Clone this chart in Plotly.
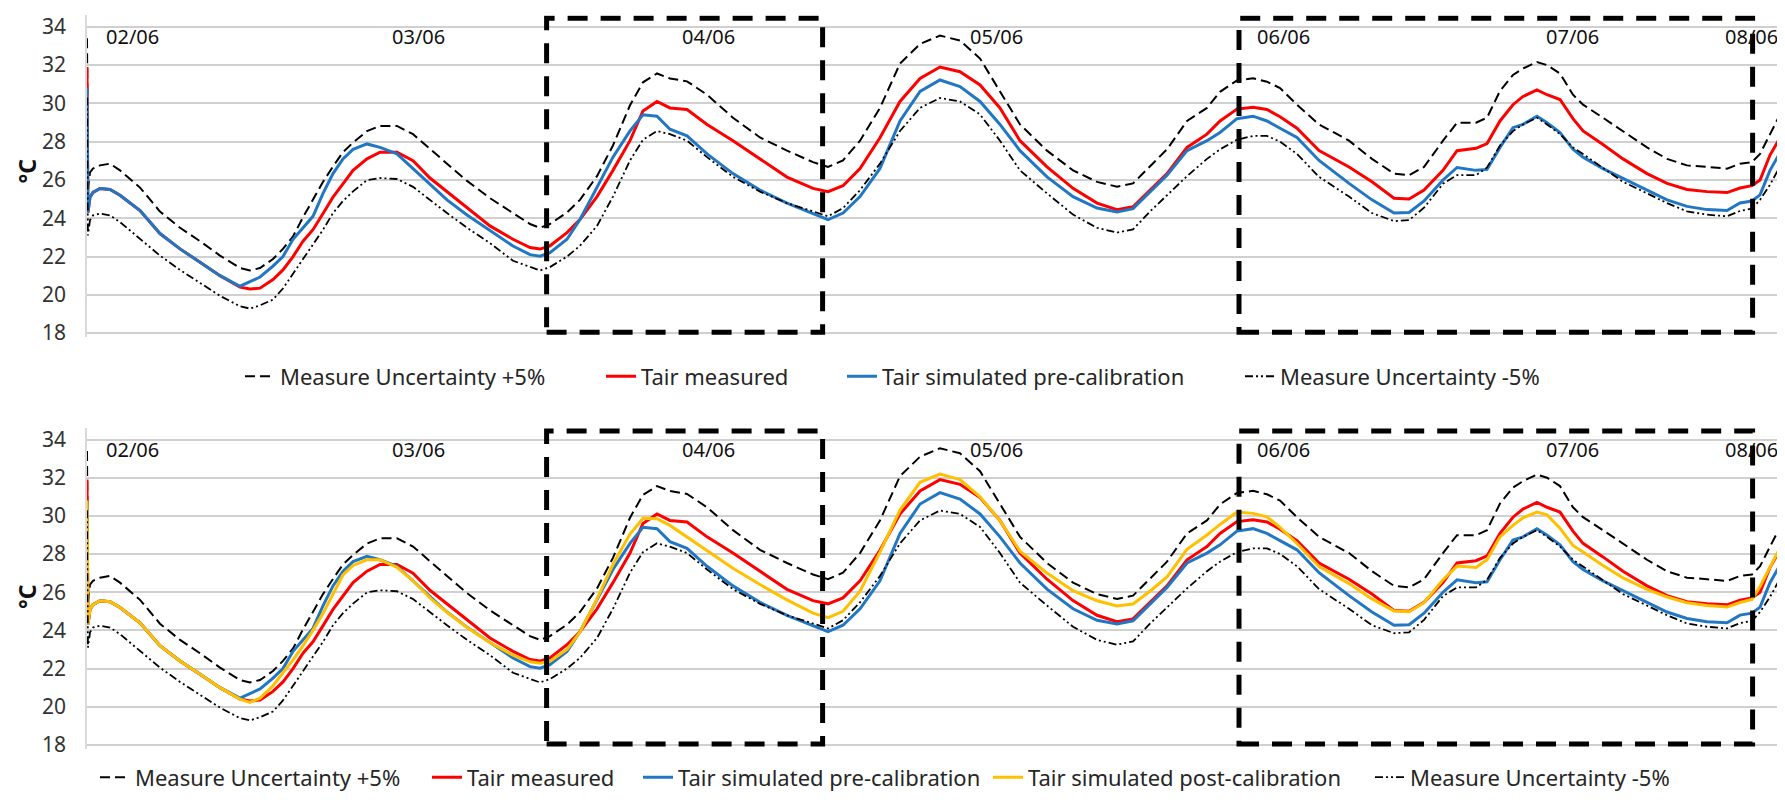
import plotly.graph_objects as go

# time axis: hours from the start of the record
hours = [0, 0.08, 0.25, 0.5, 1.08, 1.92, 2.75, 4.42, 6.08, 7.75,
         9.42, 11.08, 12.75, 13.58, 14.42, 15.5, 16.33, 17.17, 18.0, 18.83,
         19.67, 20.5, 21.33, 22.17, 23.33, 24.42, 25.83, 27.17, 28.58, 30.0,
         31.67, 33.58, 35.5, 36.92, 37.75, 38.58, 40.0, 41.08, 42.5, 43.83,
         45.25, 46.33, 47.5, 48.58, 50.0, 51.67, 53.83, 56.08, 58.33, 60.5,
         61.75, 63.0, 64.42, 66.08, 67.75, 69.42, 71.08, 72.75, 74.42, 76.08,
         77.75, 80.0, 82.17, 84.17, 85.83, 87.17, 88.58, 90.0, 91.67, 93.33,
         94.42, 95.83, 97.17, 98.33, 99.42, 100.83, 102.67, 105.17, 107.08, 108.92,
         110.17, 111.42, 113.0, 114.17, 115.75, 116.67, 117.75, 118.83, 119.67, 120.83,
         121.67, 122.75, 123.83, 124.67, 126.33, 128.0, 130.0, 131.67, 133.33, 135.0,
         136.67, 137.75, 138.75, 139.42, 140.25, 141.5]

tair_measured = [31.9, 24.3, 25.1, 25.35, 25.55, 25.5, 25.2, 24.4, 23.2, 22.4,
                 21.7, 21.0, 20.4, 20.3, 20.35, 20.8, 21.3, 22.0, 22.8, 23.4,
                 24.25, 25.1, 25.8, 26.5, 27.1, 27.45, 27.45, 27.0, 26.1, 25.4,
                 24.53, 23.6, 22.9, 22.47, 22.39, 22.56, 23.25, 23.93, 25.13, 26.5,
                 28.05, 29.6, 30.1, 29.76, 29.68, 28.9, 28.05, 27.1, 26.15, 25.56,
                 25.39, 25.7, 26.6, 28.2, 30.1, 31.3, 31.9, 31.65, 30.96, 29.76,
                 28.05, 26.68, 25.56, 24.79, 24.45, 24.6, 25.45, 26.33, 27.7, 28.39,
                 29.08, 29.7, 29.8, 29.68, 29.3, 28.7, 27.53, 26.68, 25.9, 25.04,
                 25.0, 25.47, 26.5, 27.53, 27.65, 27.9, 29.08, 29.93, 30.36, 30.7,
                 30.45, 30.2, 29.2, 28.56, 27.85, 27.1, 26.33, 25.82, 25.5, 25.39,
                 25.34, 25.58, 25.7, 26.0, 27.3, 28.65]

tair_pre = [30.8, 24.3, 25.1, 25.35, 25.55, 25.5, 25.2, 24.4, 23.2, 22.4,
            21.7, 21.0, 20.45, 20.7, 20.93, 21.5, 22.0, 22.9, 23.5, 24.1,
            25.3, 26.33, 27.1, 27.6, 27.88, 27.7, 27.36, 26.6, 25.75, 24.96,
            24.17, 23.35, 22.55, 22.1, 22.02, 22.2, 22.9, 23.93, 25.64, 27.19,
            28.56, 29.4, 29.33, 28.65, 28.3, 27.36, 26.33, 25.47, 24.79, 24.27,
            23.93, 24.27, 25.13, 26.6, 29.08, 30.62, 31.22, 30.88, 30.1, 28.9,
            27.53, 26.16, 25.13, 24.53, 24.33, 24.5, 25.35, 26.25, 27.53, 28.05,
            28.48, 29.2, 29.33, 29.08, 28.7, 28.22, 27.02, 25.82, 24.96, 24.27,
            24.3, 24.9, 26.0, 26.65, 26.5, 26.55, 27.7, 28.73, 28.9, 29.33,
            28.99, 28.48, 27.6, 27.19, 26.59, 26.08, 25.48, 24.96, 24.62, 24.45,
            24.4, 24.8, 24.9, 25.22, 26.5, 27.88]

tair_post = [30.8, 24.3, 25.1, 25.35, 25.55, 25.5, 25.2, 24.4, 23.2, 22.4,
             21.7, 21.0, 20.4, 20.23, 20.45, 21.1, 21.78, 22.45, 23.2, 24.0,
             24.9, 25.9, 26.9, 27.4, 27.7, 27.7, 27.3, 26.6, 25.7, 24.95,
             24.15, 23.35, 22.7, 22.35, 22.28, 22.38, 23.0, 23.9, 25.65, 27.45,
             29.05, 29.87, 29.85, 29.5, 28.9, 28.15, 27.25, 26.4, 25.6, 24.9,
             24.67, 25.0, 26.05, 28.1, 30.3, 31.76, 32.19, 31.9, 31.0, 29.75,
             28.15, 27.0, 26.08, 25.55, 25.28, 25.38, 26.05, 26.8, 28.25, 29.0,
             29.55, 30.2, 30.13, 29.95, 29.4, 28.55, 27.35, 26.45, 25.65, 25.02,
             24.98, 25.45, 26.65, 27.37, 27.29, 27.7, 28.9, 29.5, 29.9, 30.2,
             30.05, 29.35, 28.45, 28.1, 27.4, 26.75, 26.15, 25.75, 25.45, 25.3,
             25.22, 25.46, 25.62, 26.3, 27.3, 28.84]

unc_plus = [33.4, 25.5, 26.4, 26.6, 26.76, 26.85, 26.5, 25.6, 24.35, 23.5,
            22.8, 22.05, 21.4, 21.27, 21.4, 21.87, 22.4, 23.05, 24.05, 24.95,
            25.9, 26.7, 27.45, 27.95, 28.55, 28.82, 28.82, 28.39, 27.6, 26.85,
            25.95, 25.05, 24.27, 23.7, 23.5, 23.7, 24.3, 24.96, 26.2, 27.8,
            29.9, 31.1, 31.56, 31.3, 31.15, 30.45, 29.25, 28.22, 27.53, 26.93,
            26.68, 27.02, 28.05, 29.76, 32.08, 33.1, 33.54, 33.28, 32.34, 30.62,
            28.9, 27.53, 26.5, 25.9, 25.65, 25.82, 26.7, 27.6, 29.08, 29.76,
            30.6, 31.2, 31.31, 31.13, 30.8, 29.93, 28.9, 28.05, 27.1, 26.33,
            26.25, 26.68, 28.05, 28.99, 28.99, 29.25, 30.65, 31.48, 31.82, 32.16,
            32.0, 31.56, 30.45, 29.93, 29.25, 28.56, 27.7, 27.1, 26.76, 26.68,
            26.59, 26.85, 26.93, 27.36, 28.39, 29.93]

unc_minus = [30.3, 23.1, 23.9, 24.15, 24.24, 24.15, 23.8, 22.9, 22.05, 21.3,
             20.6, 19.95, 19.4, 19.28, 19.45, 19.75, 20.33, 21.1, 21.85, 22.6,
             23.4, 24.27, 24.9, 25.4, 25.99, 26.1, 26.05, 25.64, 24.95, 24.27,
             23.5, 22.7, 21.78, 21.45, 21.27, 21.45, 22.0, 22.56, 23.6, 25.13,
             27.02, 28.1, 28.56, 28.39, 28.05, 27.19, 26.16, 25.39, 24.79, 24.36,
             24.1, 24.53, 25.47, 26.85, 28.56, 29.76, 30.28, 30.1, 29.42, 28.05,
             26.5, 25.3, 24.19, 23.5, 23.25, 23.42, 24.35, 25.2, 26.2, 27.1,
             27.6, 28.1, 28.3, 28.3, 28.0, 27.36, 26.16, 25.13, 24.27, 23.85,
             23.9, 24.55, 25.8, 26.25, 26.25, 26.65, 27.8, 28.55, 28.9, 29.25,
             28.9, 28.39, 27.7, 27.35, 26.65, 25.9, 25.3, 24.79, 24.36, 24.19,
             24.1, 24.38, 24.5, 24.96, 25.75, 27.19]

day_labels = ["02/06", "03/06", "04/06", "05/06", "06/06", "07/06", "08/06"]
day_label_hours = [3.8, 27.6, 51.8, 75.8, 99.7, 123.8, 138.7]

# highlighted periods (hours)
highlight_periods = [(38.3, 61.3), (96.0, 138.8)]

y_ticks = [18, 20, 22, 24, 26, 28, 30, 32, 34]

names = {
    "plus": "Measure Uncertainty +5%",
    "meas": "Tair measured",
    "pre": "Tair simulated pre-calibration",
    "post": "Tair simulated post-calibration",
    "minus": "Measure Uncertainty -5%",
}

RED = "#FF0000"
BLUE = "#2177C3"
GOLD = "#FFC000"
BLACK = "#000000"
FONT = "Noto Sans"

# page geometry (the html body adds an 8px margin)
PAGE_OFF = 8
FIG_W, FIG_H = 1777, 802
PLOT_L = 87          # page px of the plot's left edge
PLOT_W = 1785 - PLOT_L


def py(page_y):
    return 1 - (page_y - PAGE_OFF) / FIG_H


def px(page_x):
    return (page_x - PLOT_L) / PLOT_W


styles = {
    "plus": dict(color=BLACK, width=2, dash="10px,5px"),
    "meas": dict(color=RED, width=3),
    "pre": dict(color=BLUE, width=3),
    "post": dict(color=GOLD, width=3),
    "minus": dict(color=BLACK, width=1.8, dash="8px,3px,2px,3px,2px,3px"),
}
series = {"plus": unc_plus, "meas": tair_measured, "pre": tair_pre,
          "post": tair_post, "minus": unc_minus}

fig = go.Figure()

panels = [
    ("x", "y", ["plus", "meas", "pre", "minus"], [245, 606, 847, 1245], 379),
    ("x2", "y2", ["plus", "meas", "pre", "post", "minus"], [100, 432, 643, 993, 1375], 786),
]

legend_layouts = {}
lg_idx = 1
for xa, ya, keys, starts, leg_y in panels:
    for key, start in zip(keys, starts):
        lname = "legend" if lg_idx == 1 else f"legend{lg_idx}"
        fig.add_trace(go.Scatter(x=hours, y=series[key], name=names[key], mode="lines",
                                 line=styles[key], xaxis=xa, yaxis=ya, legend=lname))
        legend_layouts[lname] = dict(
            orientation="h", x=px(start - 5), xanchor="left",
            y=py(leg_y), yanchor="middle",
            font=dict(family=FONT, size=22, color="#262626"),
            bgcolor="rgba(0,0,0,0)", borderwidth=0, itemwidth=30)
        lg_idx += 1

yrange = [17.8, 34.6]
xrange_ = [0, 141.5]

common_x = dict(range=xrange_, showgrid=False, zeroline=False, showticklabels=False,
                showline=False, ticks="", fixedrange=True)
common_y = dict(range=yrange, tickvals=y_ticks, showgrid=True, gridcolor="#D0D0D0",
                gridwidth=1.5, zeroline=False, showline=True, linecolor="#D9D9D9",
                linewidth=1.5, ticks="", ticklabelstandoff=15,
                tickfont=dict(family=FONT, size=21, color="#333333"))

fig.update_layout(
    width=FIG_W, height=FIG_H,
    margin=dict(l=PLOT_L - PAGE_OFF, r=0, t=0, b=0),
    paper_bgcolor="white", plot_bgcolor="white",
    showlegend=True,
    xaxis=dict(domain=[0, 1], anchor="y", **common_x),
    yaxis=dict(domain=[py(338.9), py(12.34)], anchor="x", **common_y),
    xaxis2=dict(domain=[0, 1], anchor="y2", **common_x),
    yaxis2=dict(domain=[py(756.9), py(431.4)], anchor="x2", **common_y),
    **legend_layouts,
)

shapes = []
annotations = []
for xa, ya in (("x", "y"), ("x2", "y2")):
    for (h0, h1) in highlight_periods:
        shapes.append(dict(type="rect", xref=xa, yref=ya, x0=h0, x1=h1, y0=18.05, y1=34.45,
                           line=dict(color=BLACK, width=5, dash="20px,13px"),
                           fillcolor="rgba(0,0,0,0)", layer="above"))
    for lab, h in zip(day_labels, day_label_hours):
        annotations.append(dict(text=lab, x=h, y=33.5, xref=xa, yref=ya, showarrow=False,
                                xanchor="center", yanchor="middle",
                                font=dict(family=FONT, size=20, color="#111111")))

for ypage in (171, 603):
    annotations.append(dict(text="<b>°C</b>", x=px(27), y=py(ypage), xref="paper", yref="paper",
                            showarrow=False, textangle=-90, xanchor="center", yanchor="middle",
                            font=dict(family=FONT, size=23, color="#111111")))

fig.update_layout(shapes=shapes, annotations=annotations)

fig.write_html("out.html")
